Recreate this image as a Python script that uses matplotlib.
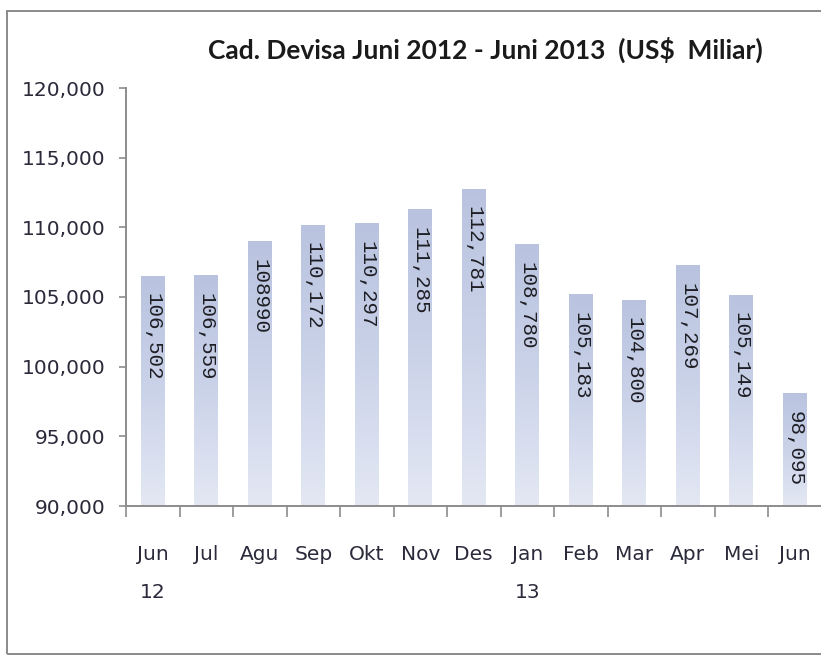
import matplotlib
matplotlib.use('Agg')
import numpy as np
import matplotlib.pyplot as plt
from matplotlib.patches import Rectangle
from matplotlib.colors import LinearSegmentedColormap

# ─── data ─────────────────────────────────────────────────────────────────────
months = ["Jun\n12", "Jul", "Agu", "Sep", "Okt", "Nov", "Des",
          "Jan\n13", "Feb", "Mar", "Apr", "Mei", "Jun"]
reserves = [106502, 106559, 108990, 110172, 110297, 111285, 112781,
            108780, 105183, 104800, 107269, 105149, 98095]
value_labels = ["106,502", "106,559", "108990", "110,172", "110,297", "111,285", "112,781",
                "108,780", "105,183", "104,800", "107,269", "105,149", "98,095"]
y_ticks = [90000, 95000, 100000, 105000, 110000, 115000, 120000]
title = "Cad. Devisa Juni 2012 - Juni 2013  (US$  Miliar)"
# ──────────────────────────────────────────────────────────────────────────────

Y_MIN, Y_MAX = 90000, 120000
BAR_W = 0.44

fig = plt.figure(figsize=(8.21, 6.56), dpi=100)
fig.patch.set_facecolor("white")

# outer frame around the whole chart area
fig.add_artist(Rectangle((7 / 821, 2 / 656), 1.2, 1 - 13 / 656,
                         transform=fig.transFigure, fill=False,
                         edgecolor="#8a8a8a", linewidth=1.4))

ax = fig.add_axes([126 / 821, 1 - 506 / 656, 695.5 / 821, 418 / 656])
ax.set_xlim(-0.5, len(months) - 0.5)
ax.set_ylim(Y_MIN, Y_MAX)

# gradient bars: blue-lavender at the top fading towards the baseline
cmap = LinearSegmentedColormap.from_list("bar", ["#e4e8f4", "#cbd3e9", "#b9c3df"])
grad = np.linspace(0, 1, 256).reshape(-1, 1)
x = np.arange(len(months))
bars = ax.bar(x, np.array(reserves) - Y_MIN, bottom=Y_MIN, width=BAR_W,
              color="none", edgecolor="none")
for rect in bars:
    x0, w = rect.get_x(), rect.get_width()
    y0, h = rect.get_y(), rect.get_height()
    im = ax.imshow(grad, cmap=cmap, aspect="auto", origin="lower",
                   extent=(x0, x0 + w, y0, y0 + h), zorder=2)
    im.set_clip_path(rect)

# vertical value labels just inside the top of each bar
offset = 1250
for xi, val, lab in zip(x, reserves, value_labels):
    ax.text(xi, val - offset, lab, rotation=270, ha="center", va="top",
            family=["Liberation Mono", "DejaVu Sans Mono"], fontsize=15,
            color="#1e1e24", zorder=3)

ax.set_yticks(y_ticks)
ax.set_yticklabels([f"{v:,}" for v in y_ticks])
ax.set_xticks(x)
ax.set_xticklabels(months, linespacing=2.25, va="top")
ax.set_xticks(np.arange(len(months) + 1) - 0.5, minor=True)

for lab in ax.get_xticklabels() + ax.get_yticklabels():
    lab.set_family("DejaVu Sans")
    lab.set_fontsize(14.5)
    lab.set_color("#2a2a3a")

ax.tick_params(axis="x", which="major", length=0, pad=28)
ax.tick_params(axis="x", which="minor", length=8, width=1.2, color="#8c8c8c")
ax.tick_params(axis="y", which="major", length=5, width=1.2, color="#8c8c8c", pad=10)

for side in ("top", "right"):
    ax.spines[side].set_visible(False)
for side in ("left", "bottom"):
    ax.spines[side].set_color("#8c8c8c")
    ax.spines[side].set_linewidth(1.4)

fig.text(485 / 821, 1 - 50 / 656, title, ha="center", va="center",
         family=["Lato", "DejaVu Sans"], fontsize=19, fontweight="bold",
         color="#1a1a1a")

fig.savefig("out.png", dpi=100)
